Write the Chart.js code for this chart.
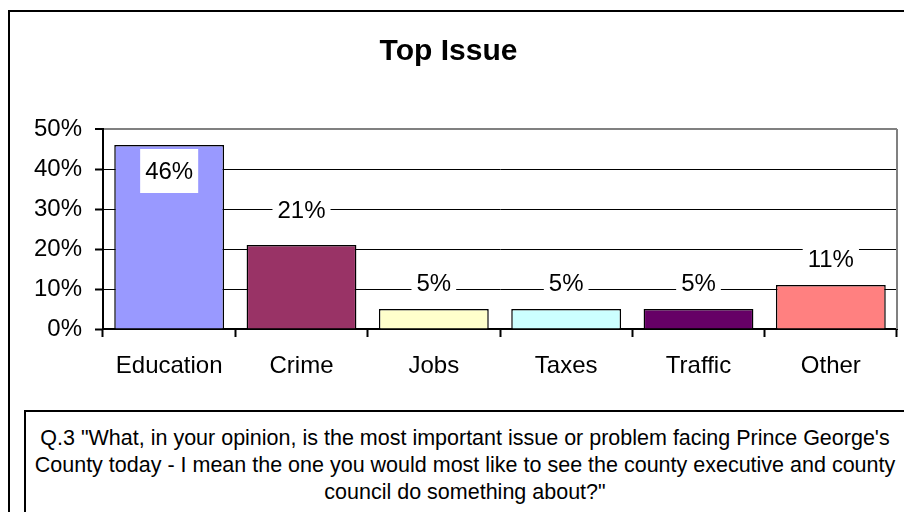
<!DOCTYPE html>
<html>
<head>
<meta charset="utf-8">
<script src="https://cdn.jsdelivr.net/npm/chart.js@4/dist/chart.umd.min.js"></script>
<style>
    html, body { margin: 0; padding: 0; background: #fff; }
    #wrap { position: relative; width: 904px; height: 512px; overflow: hidden; }
    #frame { position: absolute; left: 8px; top: 10px; width: 900px; height: 510px; border-left: 2px solid #000; border-top: 2px solid #000; }
    #issueChart { position: absolute; left: 0; top: 0; }
    #note {
        position: absolute; left: 24px; top: 410px; width: 882px; height: 120px;
        box-sizing: border-box; border: 2px solid #000; background: #fff;
        padding-top: 13px; text-align: center; color: #000;
        font: 21.5px "Liberation Sans", Arial, sans-serif; line-height: 27px;
    }
</style>
</head>
<body>
<div id="wrap">
    <div id="frame"></div>
    <canvas id="issueChart" width="904" height="512"></canvas>
    <div id="note">Q.3 "What, in your opinion, is the most important issue or problem facing Prince George's<br>County today - I mean the one you would most like to see the county executive and county<br>council do something about?"</div>
</div>
<script>
// === TOP ISSUE DATA ===
const categories = ['Education', 'Crime', 'Jobs', 'Taxes', 'Traffic', 'Other'];
const shares = [46, 21, 5, 5, 5, 11];
const yTicks = [0, 10, 20, 30, 40, 50];

const BAR_COLORS = ['#9999FF', '#993366', '#FFFFCC', '#CCFFFF', '#660066', '#FF8080'];
const FONT = '"Liberation Sans", Arial, sans-serif';

// gray frame on the right side of the plot area
const plotFrame = {
    id: 'plotFrame',
    beforeDatasetsDraw(chart) {
        const { ctx, chartArea: a } = chart;
        ctx.save();
        ctx.strokeStyle = '#808080';
        ctx.lineWidth = 2;
        ctx.beginPath();
        ctx.moveTo(a.right, a.top);
        ctx.lineTo(a.right, a.bottom);
        ctx.stroke();
        ctx.restore();
    }
};

// value labels on white boxes; pushed inside the bar when there is no room above
const valueLabels = {
    id: 'valueLabels',
    afterDatasetsDraw(chart) {
        const { ctx, chartArea } = chart;
        const meta = chart.getDatasetMeta(0);
        ctx.save();
        ctx.font = '24px ' + FONT;
        ctx.textAlign = 'center';
        ctx.textBaseline = 'middle';
        meta.data.forEach((bar, i) => {
            const text = shares[i] + '%';
            const lift = i === 1 ? 35 : 26;
            let y = bar.y - lift;
            if (y - 16 < chartArea.top) y = bar.y + lift;
            const w = ctx.measureText(text).width + 10;
            const h = 44;
            ctx.fillStyle = '#fff';
            ctx.fillRect(bar.x - w / 2, y - h / 2, w, h);
            ctx.fillStyle = '#000';
            ctx.fillText(text, bar.x, y + 1);
        });
        ctx.restore();
    }
};

const ctx = document.getElementById('issueChart').getContext('2d');
new Chart(ctx, {
    type: 'bar',
    data: {
        labels: categories,
        datasets: [{
            data: shares,
            backgroundColor: BAR_COLORS,
            borderColor: '#000',
            borderWidth: 1.5,
            barPercentage: 0.83,
            categoryPercentage: 1
        }]
    },
    options: {
        responsive: false, animation: false,
        layout: { padding: { left: 0, right: 7, top: 0, bottom: 123 } },
        plugins: {
            legend: { display: false },
            tooltip: { enabled: false },
            title: {
                display: true, text: 'Top Issue', color: '#000',
                font: { family: FONT, size: 30, weight: 'bold' },
                padding: { top: 34, bottom: 59 }
            }
        },
        scales: {
            x: {
                afterFit: s => { s.height = 60; },
                grid: { drawOnChartArea: false, tickLength: 8, tickColor: '#000', tickWidth: 2 },
                border: { color: '#000', width: 2 },
                ticks: { color: '#000', padding: 15, font: { family: FONT, size: 24 } }
            },
            y: {
                min: 0, max: 50,
                afterFit: s => { s.width = 103; },
                afterBuildTicks: s => { s.ticks = yTicks.map(v => ({ value: v })); },
                grid: {
                    color: c => c.tick && c.tick.value === 50 ? '#808080' : '#000',
                    lineWidth: c => c.tick && c.tick.value === 50 ? 2 : 1,
                    tickLength: 8, tickColor: '#000', tickWidth: 2
                },
                border: { color: '#000', width: 2 },
                ticks: { color: '#000', padding: 13, font: { family: FONT, size: 24 }, callback: v => v + '%' }
            }
        }
    },
    plugins: [plotFrame, valueLabels]
});
</script>
</body>
</html>
